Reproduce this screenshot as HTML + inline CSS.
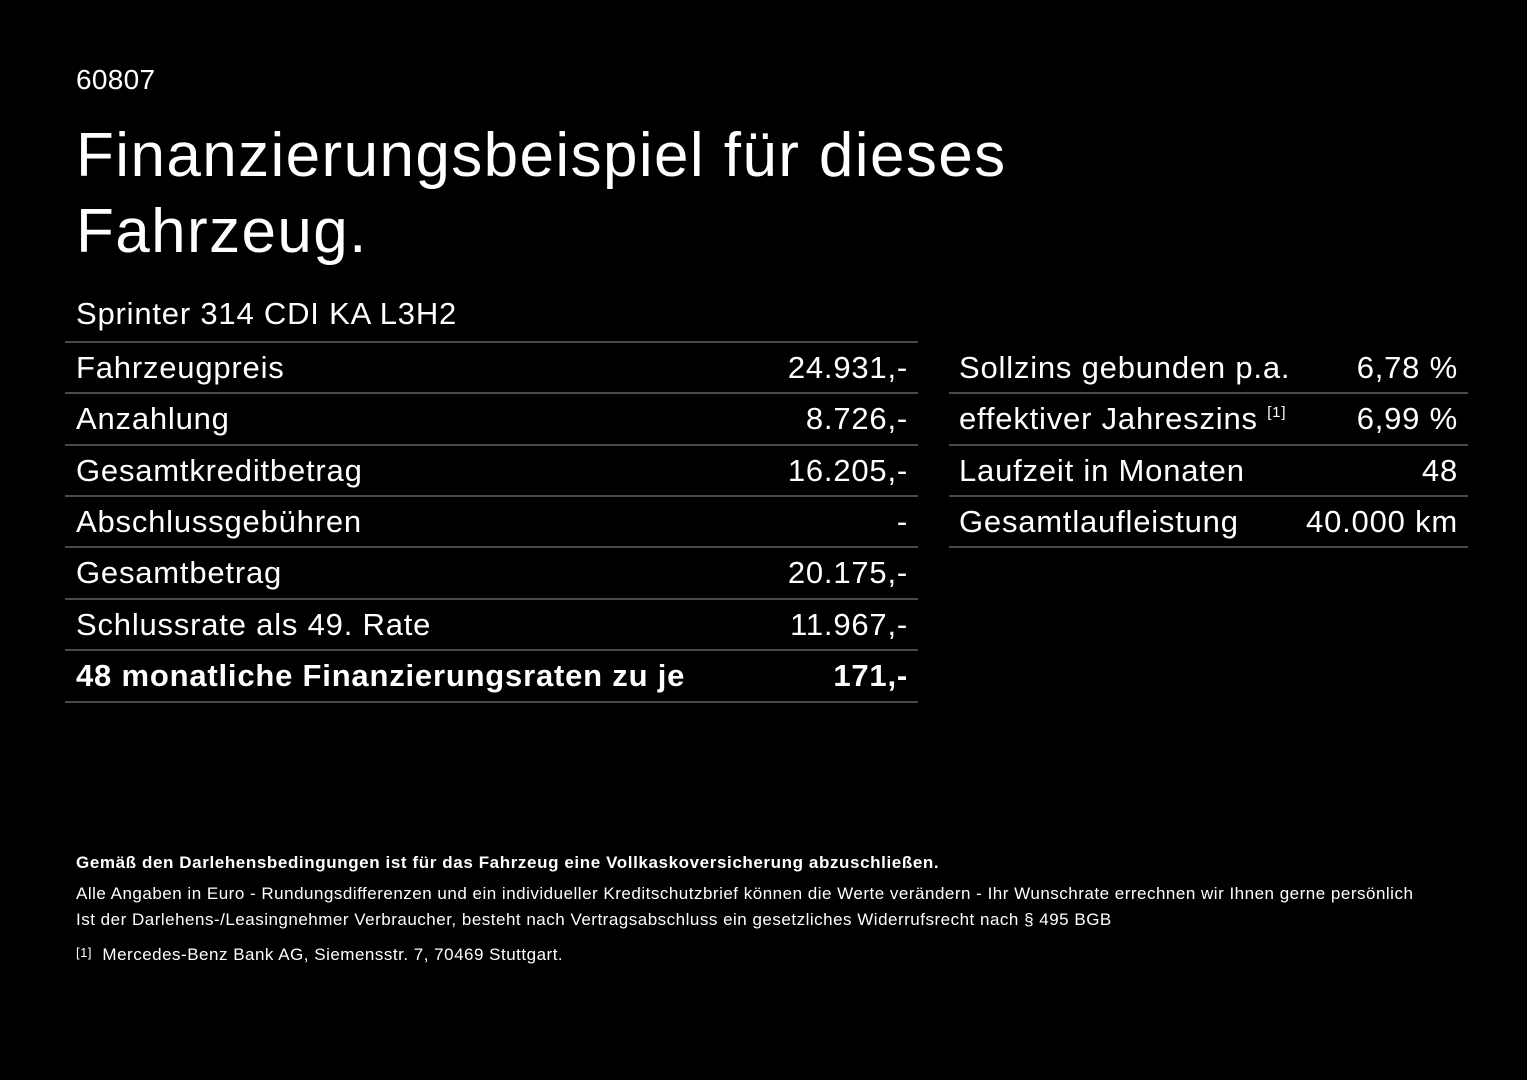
<!DOCTYPE html>
<html><head><meta charset="utf-8"><style>
body{margin:0;width:1527px;height:1080px;background:#000;color:#fff;font-family:"Liberation Sans",Arial,sans-serif;position:relative;overflow:hidden}
.a{position:absolute;white-space:nowrap}
.line{position:absolute;height:2px;background:#4a4a4a}
.r{position:absolute;font-size:31px;line-height:51px;white-space:nowrap;letter-spacing:0.8px}
</style></head><body>
<div class="a" style="left:76px;top:64px;font-size:28px;letter-spacing:0.3px">60807</div>
<div class="a" style="left:76px;top:118px;font-size:62px;line-height:76px;letter-spacing:1.4px">Finanzierungsbeispiel für dieses<br>Fahrzeug.</div>
<div class="a" style="left:76px;top:296px;font-size:31px;letter-spacing:0.8px">Sprinter 314 CDI KA L3H2</div>

<div class="line" style="left:65px;width:853px;top:341px"></div>
<div class="line" style="left:65px;width:853px;top:392px"></div>
<div class="line" style="left:65px;width:853px;top:444px"></div>
<div class="line" style="left:65px;width:853px;top:495px"></div>
<div class="line" style="left:65px;width:853px;top:546px"></div>
<div class="line" style="left:65px;width:853px;top:598px"></div>
<div class="line" style="left:65px;width:853px;top:649px"></div>
<div class="line" style="left:65px;width:853px;top:701px"></div>

<div class="r" style="left:76px;top:342px">Fahrzeugpreis</div><div class="r" style="right:619px;top:342px">24.931,-</div>
<div class="r" style="left:76px;top:393px">Anzahlung</div><div class="r" style="right:619px;top:393px">8.726,-</div>
<div class="r" style="left:76px;top:445px">Gesamtkreditbetrag</div><div class="r" style="right:619px;top:445px">16.205,-</div>
<div class="r" style="left:76px;top:496px">Abschlussgebühren</div><div class="r" style="right:619px;top:496px">-</div>
<div class="r" style="left:76px;top:547px">Gesamtbetrag</div><div class="r" style="right:619px;top:547px">20.175,-</div>
<div class="r" style="left:76px;top:599px">Schlussrate als 49. Rate</div><div class="r" style="right:619px;top:599px">11.967,-</div>
<div class="r" style="left:76px;top:650px;font-weight:bold">48 monatliche Finanzierungsraten zu je</div><div class="r" style="right:619px;top:650px;font-weight:bold">171,-</div>

<div class="line" style="left:949px;width:519px;top:392px"></div>
<div class="line" style="left:949px;width:519px;top:444px"></div>
<div class="line" style="left:949px;width:519px;top:495px"></div>
<div class="line" style="left:949px;width:519px;top:546px"></div>
<div class="r" style="left:959px;top:342px">Sollzins gebunden p.a.</div><div class="r" style="right:69px;top:342px">6,78 %</div>
<div class="r" style="left:959px;top:393px">effektiver Jahreszins <span style="font-size:15px;position:relative;top:-12px">[1]</span></div><div class="r" style="right:69px;top:393px">6,99 %</div>
<div class="r" style="left:959px;top:445px">Laufzeit in Monaten</div><div class="r" style="right:69px;top:445px">48</div>
<div class="r" style="left:959px;top:496px">Gesamtlaufleistung</div><div class="r" style="right:69px;top:496px">40.000 km</div>

<div class="a" style="left:76px;top:853px;font-size:17px;font-weight:bold;letter-spacing:0.6px">Gemäß den Darlehensbedingungen ist für das Fahrzeug eine Vollkaskoversicherung abzuschließen.</div>
<div class="a" style="left:76px;top:881px;font-size:17px;line-height:26px;letter-spacing:0.5px">Alle Angaben in Euro - Rundungsdifferenzen und ein individueller Kreditschutzbrief können die Werte verändern - Ihr Wunschrate errechnen wir Ihnen gerne persönlich<br>Ist der Darlehens-/Leasingnehmer Verbraucher, besteht nach Vertragsabschluss ein gesetzliches Widerrufsrecht nach § 495 BGB</div>
<div class="a" style="left:76px;top:945px;font-size:17px;letter-spacing:0.5px"><span style="font-size:13px;position:relative;top:-3px">[1]</span>&nbsp; Mercedes-Benz Bank AG, Siemensstr. 7, 70469 Stuttgart.</div>
</body></html>
